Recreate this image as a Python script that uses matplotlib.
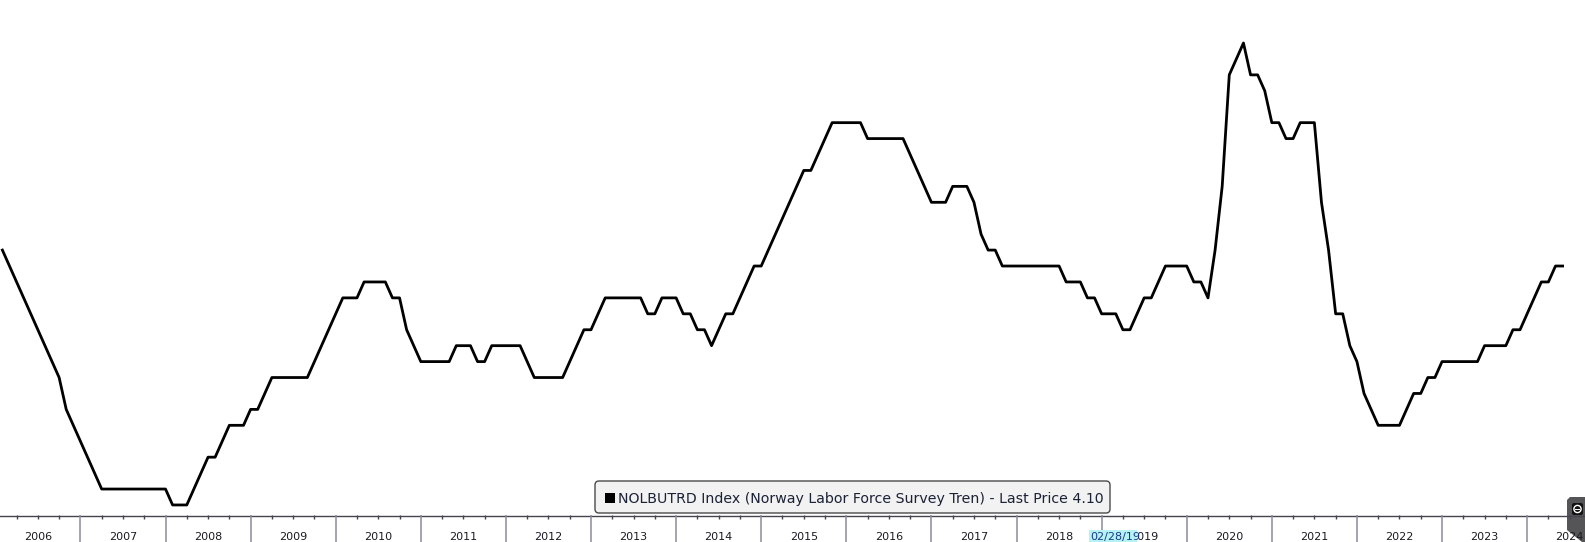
import matplotlib
matplotlib.use("Agg")
import matplotlib.pyplot as plt
from matplotlib.patches import FancyBboxPatch, Rectangle, Polygon, Circle
from matplotlib.transforms import Affine2D
import numpy as np

plt.rcParams['font.family'] = ['DejaVu Sans']

W, H, DPI = 1585, 542, 100

# ---- data (monthly, Jan 2006 .. May 2024) ----
start_year = 2006
u2006 = [4.2, 4.1, 4.0, 3.9, 3.8, 3.7, 3.6, 3.5, 3.4, 3.2, 3.1, 3.0]
u2007 = [2.9, 2.8, 2.7, 2.7, 2.7, 2.7, 2.7, 2.7, 2.7, 2.7, 2.7, 2.7]
u2008 = [2.6, 2.6, 2.6, 2.7, 2.8, 2.9, 2.9, 3.0, 3.1, 3.1, 3.1, 3.2]
u2009 = [3.2, 3.3, 3.4, 3.4, 3.4, 3.4, 3.4, 3.4, 3.5, 3.6, 3.7, 3.8]
u2010 = [3.9, 3.9, 3.9, 4.0, 4.0, 4.0, 4.0, 3.9, 3.9, 3.7, 3.6, 3.5]
u2011 = [3.5, 3.5, 3.5, 3.5, 3.6, 3.6, 3.6, 3.5, 3.5, 3.6, 3.6, 3.6]
u2012 = [3.6, 3.6, 3.5, 3.4, 3.4, 3.4, 3.4, 3.4, 3.5, 3.6, 3.7, 3.7]
u2013 = [3.8, 3.9, 3.9, 3.9, 3.9, 3.9, 3.9, 3.8, 3.8, 3.9, 3.9, 3.9]
u2014 = [3.8, 3.8, 3.7, 3.7, 3.6, 3.7, 3.8, 3.8, 3.9, 4.0, 4.1, 4.1]
u2015 = [4.2, 4.3, 4.4, 4.5, 4.6, 4.7, 4.7, 4.8, 4.9, 5.0, 5.0, 5.0]
u2016 = [5.0, 5.0, 4.9, 4.9, 4.9, 4.9, 4.9, 4.9, 4.8, 4.7, 4.6, 4.5]
u2017 = [4.5, 4.5, 4.6, 4.6, 4.6, 4.5, 4.3, 4.2, 4.2, 4.1, 4.1, 4.1]
u2018 = [4.1, 4.1, 4.1, 4.1, 4.1, 4.1, 4.0, 4.0, 4.0, 3.9, 3.9, 3.8]
u2019 = [3.8, 3.8, 3.7, 3.7, 3.8, 3.9, 3.9, 4.0, 4.1, 4.1, 4.1, 4.1]
u2020 = [4.0, 4.0, 3.9, 4.2, 4.6, 5.3, 5.4, 5.5, 5.3, 5.3, 5.2, 5.0]
u2021 = [5.0, 4.9, 4.9, 5.0, 5.0, 5.0, 4.5, 4.2, 3.8, 3.8, 3.6, 3.5]
u2022 = [3.3, 3.2, 3.1, 3.1, 3.1, 3.1, 3.2, 3.3, 3.3, 3.4, 3.4, 3.5]
u2023 = [3.5, 3.5, 3.5, 3.5, 3.5, 3.6, 3.6, 3.6, 3.6, 3.7, 3.7, 3.8]
u2024 = [3.9, 4.0, 4.0, 4.1, 4.1]

values = (u2006 + u2007 + u2008 + u2009 + u2010 + u2011 + u2012 + u2013 +
          u2014 + u2015 + u2016 + u2017 + u2018 + u2019 + u2020 + u2021 +
          u2022 + u2023 + u2024)
year_labels = list(range(2006, 2025))
series_name = "NOLBUTRD Index (Norway Labor Force Survey Tren)"
cursor_label = "02/28/19"
last_price = values[-1]

# monthly points plotted at month end
months = np.arange(len(values))
t = start_year + (months + 1) / 12.0

fig = plt.figure(figsize=(W / DPI, H / DPI), dpi=DPI)
fig.patch.set_facecolor('white')

axis_px = 515
x0, x1 = 2006.0552, 2024.680

ax = fig.add_axes([0, (H - axis_px) / H, 1, axis_px / H])
ax.plot(t, values, color='black', lw=2.0, solid_joinstyle='round')
ax.set_xlim(x0, x1)
ax.set_ylim(2.537, 5.770)
ax.axis('off')

# helper: full-pixel coordinates with origin top-left
px = Affine2D().scale(1, -1).translate(0, H)

# corner widget (drawn beneath the bottom axis texts)
fig.add_artist(Polygon([(1567, 500), (1570, 497), (1585, 497), (1585, 542),
                        (1582, 542), (1567, 530)], closed=True,
                       facecolor='#555558', edgecolor='none', transform=px,
                       zorder=-1))
fig.add_artist(FancyBboxPatch((1572, 503), 11, 12,
                              boxstyle='round,pad=0,rounding_size=2',
                              facecolor='#111111', edgecolor='none',
                              transform=px, zorder=-1))
fig.add_artist(Circle((1577.5, 509), 3.6, facecolor='none',
                      edgecolor='white', lw=1.0, transform=px, zorder=-1))
fig.add_artist(Rectangle((1575.3, 508.5), 4.4, 1.2, facecolor='white',
                         edgecolor='none', transform=px, zorder=-1))

# bottom date axis (units: pixels below axis line)
band = H - axis_px
axb = fig.add_axes([0, 0, 1, band / H])
axb.patch.set_alpha(0)
axb.set_xlim(x0, x1)
axb.set_ylim(band, 0)
axb.axis('off')
axb.axhline(0.5, color='#45454f', lw=1.0, clip_on=False)
axb.vlines(year_labels[1:], 0, band, color='#8a8a9c', lw=1.1)
quarters = [y + q / 4 for y in year_labels for q in (1, 2, 3)]
axb.vlines(quarters, 0, 3.5, color='#45454f', lw=1.0)
for y in year_labels:
    axb.text(y + 0.5, 21.8, str(y), ha='center', va='center', fontsize=8,
             color='#1a1a22')

# cursor date highlight
fig.add_artist(Rectangle((1089.3, 530), 48, 12.5, facecolor='#b4f2f4',
                         edgecolor='none', transform=px))
fig.text(1090, 536.8, cursor_label, transform=px, ha='left', va='center',
         fontsize=8, color='#1a3a8a')

# legend box
fig.add_artist(FancyBboxPatch((595, 481), 515, 32,
                              boxstyle='round,pad=0,rounding_size=4',
                              facecolor='#f2f2f2', edgecolor='#4a4a4a',
                              lw=1.0, transform=px))
fig.add_artist(Rectangle((604.5, 492.5), 10.5, 10.5, facecolor='black',
                         edgecolor='none', transform=px))
leg = fig.text(617.5, 503, f"{series_name} - Last Price {last_price:.2f}",
               transform=px, ha='left', va='baseline', fontsize=11,
               color='#1c2236')
r = fig.canvas.get_renderer()
wdt = leg.get_window_extent(r).width
leg.set_fontsize(11 * 484 / wdt)

fig.savefig('out.png', dpi=DPI, facecolor='white')
